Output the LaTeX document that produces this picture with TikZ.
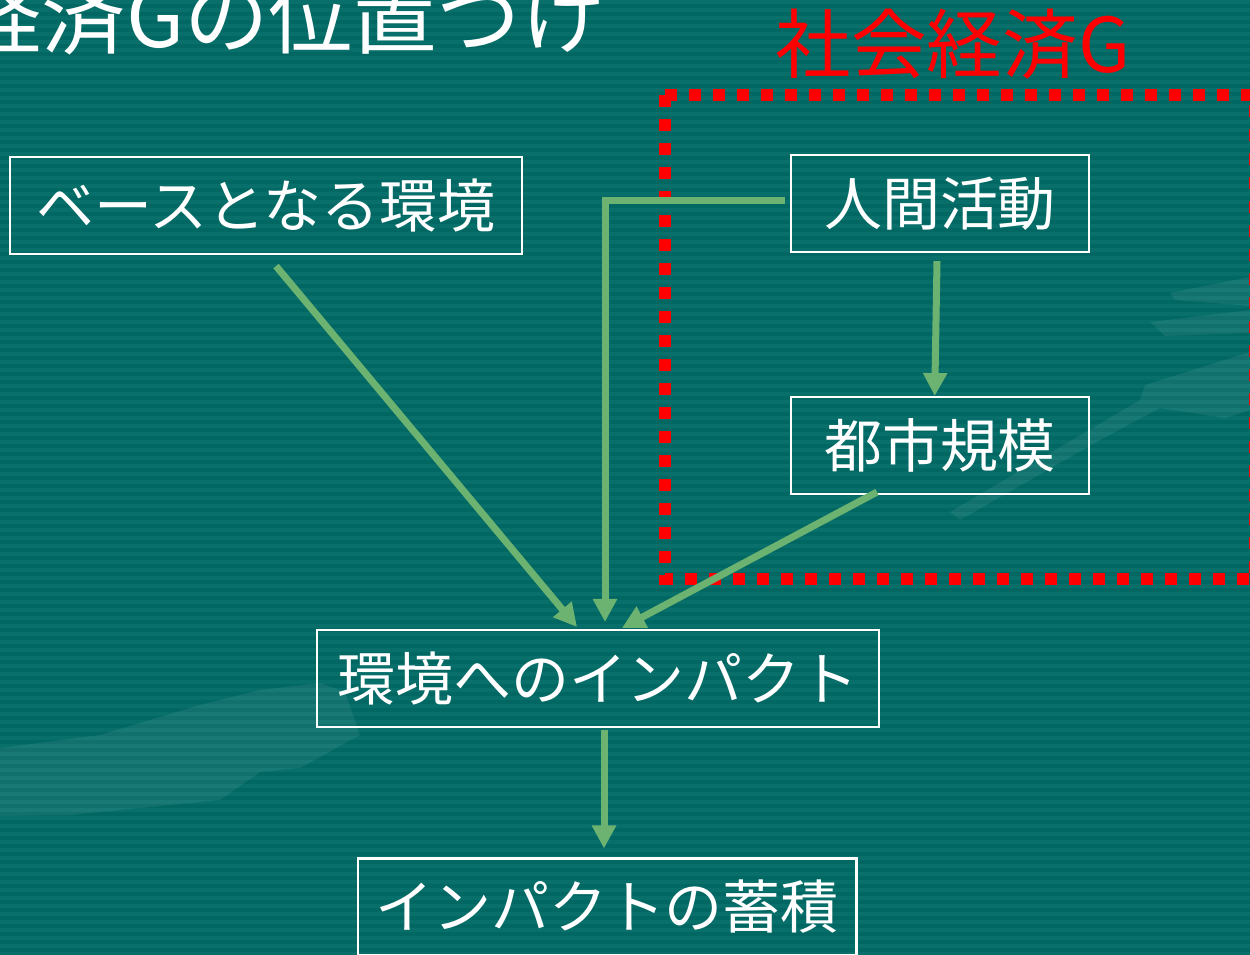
\documentclass[tikz,border=0pt]{standalone}
\usepackage{fontspec}
\newfontfamily\jpfont{Noto Sans CJK JP}
\usetikzlibrary{arrows.meta, positioning, calc}
\definecolor{cTeal}{RGB}{0,103,98}
\definecolor{cStripe}{RGB}{8,111,106}
\definecolor{cArrow}{RGB}{108,178,112}
\definecolor{cRed}{RGB}{255,0,0}
\tikzset{
	box/.style={draw=white, line width=1.2pt, text=white, minimum height=1.94cm, inner sep=1pt, text centered, font=\jpfont\fontsize{33}{40}\selectfont},
	flowarrow/.style={-{Triangle[length=0.46cm, width=0.46cm]}, line width=0.14cm, draw=cArrow},
	groupline/.style={draw=cRed, line width=0.24cm, dash pattern=on 0.24cm off 0.24cm},
	% faint background shapes
	ghost/.style={fill=white, opacity=0.07, draw=none},
}

\begin{document}
\begin{tikzpicture}[x=0.02cm, y=-0.02cm]
	\path[use as bounding box] (0,0) rectangle (1250,954);
	\clip (0,0) rectangle (1250,954);
	\fill[cTeal] (0,0) rectangle (1250,954);
	\foreach \y in {0,8,...,952} {
		\fill[cStripe] (0,\y) rectangle (1250,\y+4);
	}
	\fill[ghost] (1170,293) -- (1250,277) -- (1250,306) -- (1175,300) -- cycle;
	\fill[ghost] (1150,322) -- (1250,310) -- (1250,333) -- (1165,336) -- cycle;
	\fill[ghost] (1145,385) -- (1250,352) -- (1250,410) -- (1225,418) -- (1160,408) -- (1100,440) -- (960,520) -- (950,512) -- (1140,400) -- cycle;
	\fill[ghost] (0,748) -- (100,735) -- (200,705) -- (260,690) -- (320,683) -- (345,692) -- (360,735) -- (300,768) -- (260,772) -- (220,800) -- (70,815) -- (0,816) -- cycle;

	\node[anchor=base east, text=white, font=\jpfont\fontsize{48}{56}\selectfont] (title) at (612,47) {経済Gの位置づけ};
	\node[anchor=base, text=cRed, font=\jpfont\fontsize{43}{50}\selectfont] (grouplabel) at (953,72) {社会経済G};
	\draw[groupline] (665,95) rectangle (1255,579);

	\node[box, minimum width=10.24cm] (base) at (266,205.5) {ベースとなる環境};
	\node[box, minimum width=5.96cm] (human) at (940,203.5) {人間活動};
	\node[box, minimum width=5.96cm] (city) at (940,445.5) {都市規模};
	\node[box, minimum width=11.24cm] (impact) at (598,678.5) {環境へのインパクト};
	\node[box, minimum width=9.98cm] (accum) at (607,907) {インパクトの蓄積};

	\draw[flowarrow] ([shift={(10,11)}]base.south) -- ([shift={(-21,-2)}]impact.north);
	\draw[flowarrow] ([shift={(-5,-3)}]human.west) -| ([shift={(7,-7)}]impact.north);
	\draw[flowarrow] ([shift={(-3,8)}]human.south) -- ([xshift=-3]city.north);
	\draw[flowarrow] ([shift={(-63,-3)}]city.south) -- ([shift={(24,-1)}]impact.north);
	\draw[flowarrow] ([shift={(6,2)}]impact.south) -- ([shift={(-3,-9)}]accum.north);
\end{tikzpicture}
\end{document}
